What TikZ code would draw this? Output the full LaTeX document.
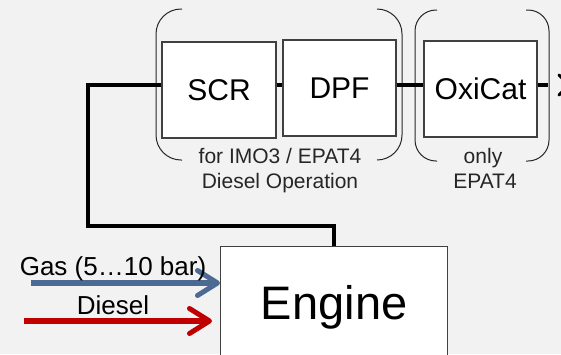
\documentclass[tikz,border=0pt]{standalone}
\usepackage{fontspec}
\setmainfont{Liberation Sans}
\usetikzlibrary{arrows.meta}
\definecolor{bg}{HTML}{F2F2F2}
\definecolor{boxline}{HTML}{404040}
\definecolor{gasblue}{HTML}{4D6A93}
\definecolor{dieselred}{HTML}{C00000}
\begin{document}
\begin{tikzpicture}[x=1pt,y=-1pt,
  unit/.style={draw=boxline, line width=1.3pt, fill=white, minimum width=114pt,
    minimum height=96pt, inner sep=0pt, font=\fontsize{30}{36}\selectfont},
  bracket/.style={draw=black!85, line width=1pt},
  flow/.style={line width=4pt, draw=black},
  feed/.style={line width=5.5pt, -{Straight Barb[length=20pt,width=25pt,line width=5pt,round]}},
  note/.style={font=\fontsize{21}{25}\selectfont, text=black!85, inner sep=0pt, anchor=base},
  feedlabel/.style={font=\fontsize{26}{30}\selectfont, inner sep=0pt, anchor=base}]
\fill[bg] (0,0) rectangle (561,354);
\useasboundingbox (0,0) rectangle (561,354);

% brackets
\draw[bracket, rounded corners=25pt] (182,9) -- (156,9) -- (156,160) -- (182,160);
\draw[bracket, rounded corners=25pt] (377,9) -- (402,9) -- (402,160) -- (377,160);
\draw[bracket, rounded corners=21pt] (437,10) -- (415,10) -- (415,161) -- (437,161);
\draw[bracket, rounded corners=21pt] (526,10) -- (549,10) -- (549,161) -- (526,161);

% units
\node[unit] (scr) at (219,90) {SCR};
\node[unit, minimum width=113pt] (dpf) at (339.5,88) {DPF};
\node[unit, minimum width=113pt] (oxi) at (480.5,89) {OxiCat};
\node[unit, minimum width=227pt, minimum height=112pt, anchor=north west,
  font=\fontsize{47}{56}\selectfont, text height=34pt, text depth=0pt] (engine) at (220,246) {Engine};

% exhaust line
\coordinate (ly) at (0,85);
\coordinate (bend) at (88,226);
\coordinate (outend) at (548,85);
\draw[flow] (engine.north) |- (bend) |- (scr.west |- ly);
\draw[flow] (scr.east |- ly) -- (dpf.west |- ly);
\draw[flow] (dpf.east |- ly) -- (oxi.west |- ly);
\draw[flow] (oxi.east |- ly) -- (outend);
\draw[line width=3pt, line cap=round, line join=round] (559,75) -- (569,85) -- (559,95);

% feeds
\coordinate (gasstart) at (31,283);
\coordinate (dstart) at (24,321);
\coordinate (dend) at (212,321);
\draw[feed, gasblue] (gasstart) -- (engine.west |- gasstart);
\draw[feed, dieselred] (dstart) -- (dend);

% labels
\node[feedlabel] (gas) at (113,275) {Gas (5…10 bar)};
\node[feedlabel] (diesel) at (113,314) {Diesel};
\node[note] (n1) at (280,163) {for IMO3 / EPAT4};
\node[note] (n2) at (280,188) {Diesel Operation};
\node[note] (n3) at (483,163) {only};
\node[note] (n4) at (485,188) {EPAT4};
\end{tikzpicture}
\end{document}
